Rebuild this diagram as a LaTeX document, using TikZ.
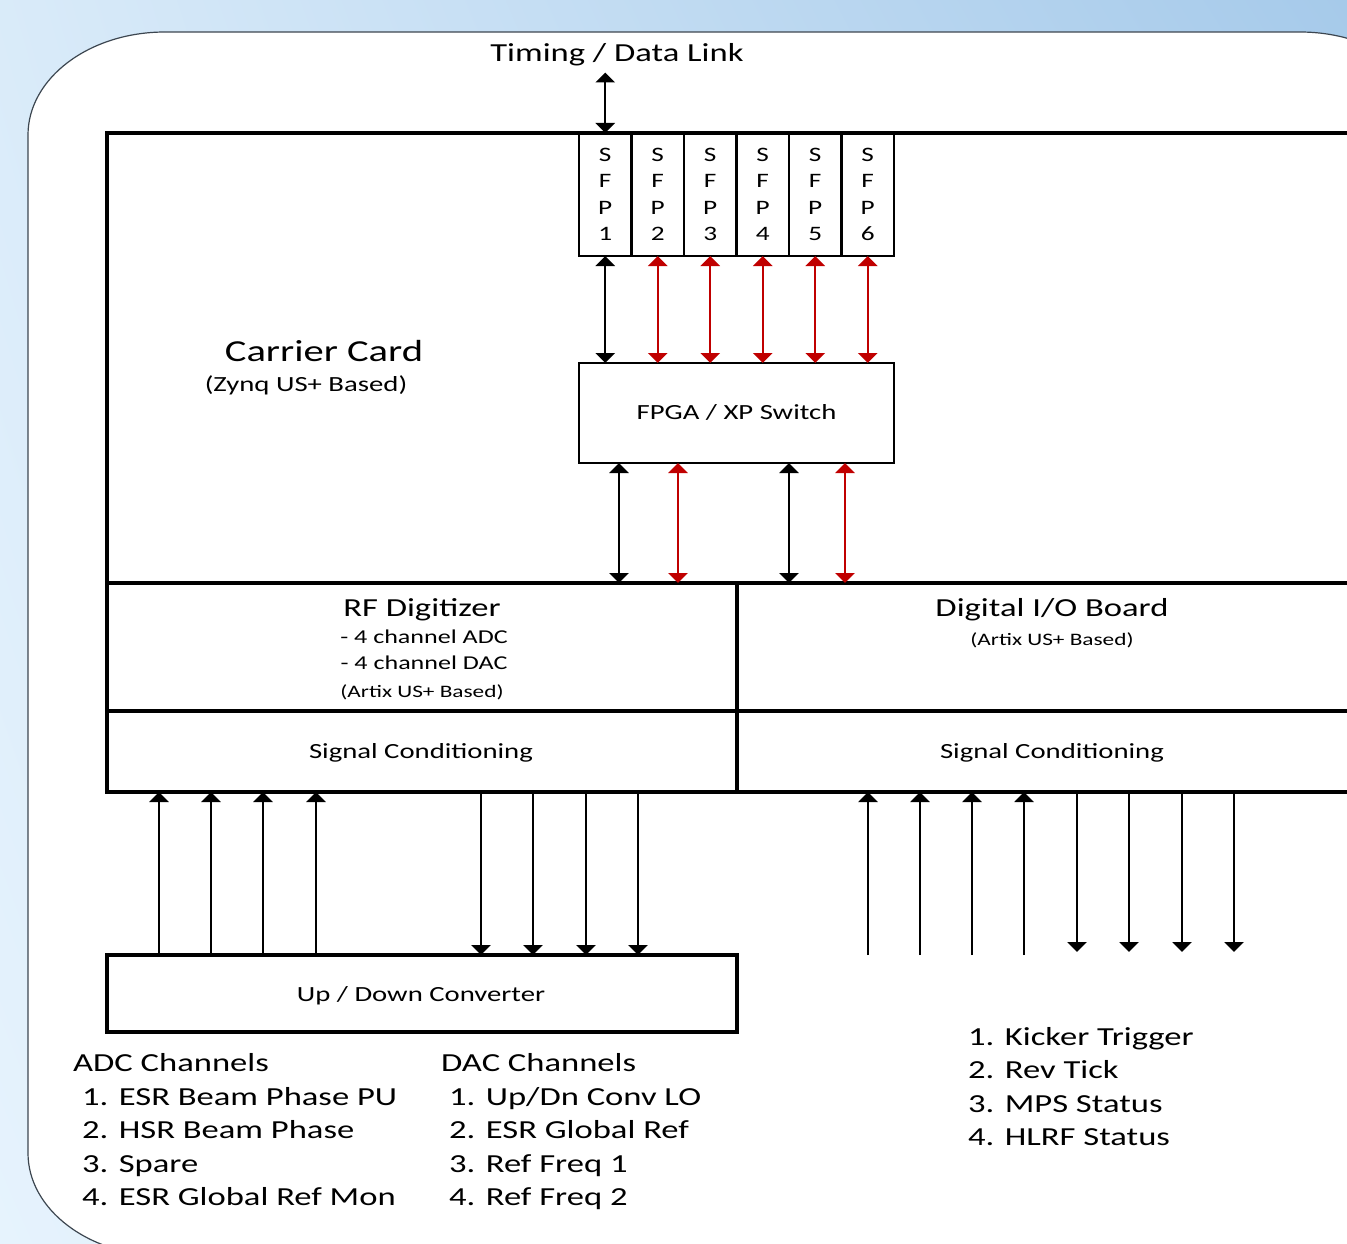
\documentclass[tikz,border=0pt]{standalone}
\usepackage{fontspec}
\setmainfont{Carlito}[FakeStretch=1.33]
\usepackage{tikz}
\usetikzlibrary{arrows.meta,positioning,shadings}
\definecolor{LinkRed}{HTML}{C00000}
\definecolor{PanelEdge}{HTML}{3C4650}
\definecolor{SkyLight}{HTML}{E6F3FD}
\definecolor{SkyDark}{HTML}{A6CAEA}

\begin{document}
\begin{tikzpicture}[x=1pt, y=-1pt,
	lbl/.style={inner sep=0pt, text height=#1, text depth=0pt},
	huge/.style={lbl=19.5pt, font=\fontsize{30.5}{36}\selectfont},
	big/.style={lbl=16.6pt, font=\fontsize{26}{31}\selectfont},
	mid/.style={lbl=13.8pt, font=\fontsize{21.6}{26}\selectfont},
	chan/.style={lbl=12.5pt, font=\fontsize{19.6}{24}\selectfont},
	small/.style={lbl=11.2pt, font=\fontsize{17.5}{21}\selectfont},
	item/.style={big, anchor=west},
	board/.style={draw, line width=3.2pt, outer sep=0pt, inner sep=0pt, anchor=north west},
	sfp/.style={draw, line width=2.6pt, outer sep=0pt, inner sep=0pt, minimum width=52.5pt, minimum height=123pt, align=center, font=\fontsize{20.5}{26.5}\selectfont},
	arr/.style={line width=2.2pt, -{Triangle[width=19pt,length=10pt]}},
	darr/.style={line width=2.2pt, {Triangle[width=19pt,length=10pt]}-{Triangle[width=19pt,length=10pt]}}]
		% backdrop and panel
		\path[use as bounding box] (0,0) rectangle (1347,1244);
		\clip (0,0) rectangle (1347,1244);
		\shade[upper left=SkyLight!80!SkyDark, upper right=SkyDark, lower left=SkyLight, lower right=SkyLight!50!SkyDark] (0,0) rectangle (1347,1244);
		\filldraw[fill=white, draw=PanelEdge, line width=1.2pt] (28,1153) -- (28,135) arc[start angle=180, end angle=270, x radius=137, y radius=103] -- (1300,32) arc[start angle=270, end angle=360, x radius=137, y radius=103] -- (1437,1153) arc[start angle=0, end angle=90, x radius=137, y radius=103] -- (165,1256) arc[start angle=90, end angle=180, x radius=137, y radius=103] -- cycle;

		% carrier card
		\node[board, minimum width=1400pt, minimum height=450pt] (carrier) at (107,133) {};
		\node[huge] (cctitle) at (324,352) {Carrier Card};
		\node[mid] (ccbase) at (306,385) {(Zynq US+ Based)};
		\node[big] (timing) at (617,53) {Timing / Data Link};
		\coordinate[below=11pt of timing.south] (tlink);

		\node[sfp, anchor=north west] (sfp1) at (579,133) {S\\F\\P\\1};
		\node[sfp, right=0pt of sfp1] (sfp2) {S\\F\\P\\2};
		\node[sfp, right=0pt of sfp2] (sfp3) {S\\F\\P\\3};
		\node[sfp, right=0pt of sfp3] (sfp4) {S\\F\\P\\4};
		\node[sfp, right=0pt of sfp4] (sfp5) {S\\F\\P\\5};
		\node[sfp, right=0pt of sfp5] (sfp6) {S\\F\\P\\6};
		\node[draw, line width=2.6pt, outer sep=0pt, minimum width=315pt, minimum height=100pt, mid] (fpga) at (736.5,413) {FPGA / XP Switch};

		% daughter boards
		\node[board, minimum width=630pt, minimum height=128pt] (rfdig) at (107,583) {};
		\node[board, minimum width=630pt, minimum height=81pt] (sc1) at (107,711) {};
		\node[board, minimum width=700pt, minimum height=128pt] (dio) at (737,583) {};
		\node[board, minimum width=700pt, minimum height=81pt] (sc2) at (737,711) {};
		\node[board, minimum width=630pt, minimum height=77pt] (udc) at (107,955) {};
		\node[big] (rftitle) at (422,608) {RF Digitizer};
		\node[chan] (rfadc) at (424,637) {- 4 channel ADC};
		\node[chan] (rfdac) at (424,663) {- 4 channel DAC};
		\node[small] (rfbase) at (422,692) {(Artix US+ Based)};
		\node[mid] (sc1txt) at (421,752) {Signal Conditioning};
		\node[big] (diotitle) at (1052,608) {Digital I/O Board};
		\node[small] (diobase) at (1052,640) {(Artix US+ Based)};
		\node[mid] (sc2txt) at (1052,752) {Signal Conditioning};
		\node[mid] (udctxt) at (421,995) {Up / Down Converter};

		% links
		\draw[darr] (tlink -| sfp1.north) -- (sfp1.north);
		\draw[darr] (sfp1.south) -- (sfp1.south |- fpga.north);
		\draw[darr, LinkRed] (sfp2.south) -- (sfp2.south |- fpga.north); \draw[darr, LinkRed] (sfp3.south) -- (sfp3.south |- fpga.north);
		\draw[darr, LinkRed] (sfp4.south) -- (sfp4.south |- fpga.north); \draw[darr, LinkRed] (sfp5.south) -- (sfp5.south |- fpga.north);
		\draw[darr, LinkRed] (sfp6.south) -- (sfp6.south |- fpga.north);
		\coordinate (f1) at ([xshift=40pt]fpga.south west); \coordinate (f2) at ([xshift=99pt]fpga.south west);
		\coordinate (f3) at ([xshift=210pt]fpga.south west); \coordinate (f4) at ([xshift=266pt]fpga.south west);
		\draw[darr] (f1) -- (f1 |- rfdig.north); \draw[darr, LinkRed] (f2) -- (f2 |- rfdig.north);
		\draw[darr] (f3) -- (f3 |- dio.north); \draw[darr, LinkRed] (f4) -- (f4 |- dio.north);

		% analog channels
		\coordinate (u1) at ([xshift=52pt]udc.north west); \coordinate (u2) at ([xshift=104pt]udc.north west);
		\coordinate (u3) at ([xshift=156pt]udc.north west); \coordinate (u4) at ([xshift=209pt]udc.north west);
		\coordinate (d1) at ([xshift=374pt]udc.north west); \coordinate (d2) at ([xshift=426pt]udc.north west);
		\coordinate (d3) at ([xshift=479pt]udc.north west); \coordinate (d4) at ([xshift=531pt]udc.north west);
		\draw[arr] (u1) -- (u1 |- sc1.south); \draw[arr] (u2) -- (u2 |- sc1.south); \draw[arr] (u3) -- (u3 |- sc1.south); \draw[arr] (u4) -- (u4 |- sc1.south);
		\draw[arr] (d1 |- sc1.south) -- (d1); \draw[arr] (d2 |- sc1.south) -- (d2); \draw[arr] (d3 |- sc1.south) -- (d3); \draw[arr] (d4 |- sc1.south) -- (d4);

		% digital channels
		\coordinate (r1) at (868,955); \coordinate (r2) at (920,955); \coordinate (r3) at (972,955); \coordinate (r4) at (1024,955);
		\coordinate (s1) at (1077,952); \coordinate (s2) at (1129,952); \coordinate (s3) at (1182,952); \coordinate (s4) at (1234,952);
		\draw[arr] (r1) -- (r1 |- sc2.south); \draw[arr] (r2) -- (r2 |- sc2.south); \draw[arr] (r3) -- (r3 |- sc2.south); \draw[arr] (r4) -- (r4 |- sc2.south);
		\draw[arr] (s1 |- sc2.south) -- (s1); \draw[arr] (s2 |- sc2.south) -- (s2); \draw[arr] (s3 |- sc2.south) -- (s3); \draw[arr] (s4 |- sc2.south) -- (s4);

		% channel lists
		\node[item] (adchead) at (73,1063) {ADC Channels};
		\node[item] (adc1) at (82,1097) {1. ESR Beam Phase PU};
		\node[item, below=16.4pt of adc1.south west, anchor=north west] (adc2) {2. HSR Beam Phase};
		\node[item, below=16.4pt of adc2.south west, anchor=north west] (adc3) {3. Spare};
		\node[item, below=16.4pt of adc3.south west, anchor=north west] (adc4) {4. ESR Global Ref Mon};
		\node[item] (dachead) at (441,1063) {DAC Channels};
		\node[item] (dac1) at (449,1097) {1. Up/Dn Conv LO};
		\node[item, below=16.4pt of dac1.south west, anchor=north west] (dac2) {2. ESR Global Ref};
		\node[item, below=16.4pt of dac2.south west, anchor=north west] (dac3) {3. Ref Freq 1};
		\node[item, below=16.4pt of dac3.south west, anchor=north west] (dac4) {4. Ref Freq 2};
		\node[item] (dio1) at (968,1037) {1. Kicker Trigger};
		\node[item, below=16.4pt of dio1.south west, anchor=north west] (dio2) {2. Rev Tick};
		\node[item, below=16.4pt of dio2.south west, anchor=north west] (dio3) {3. MPS Status};
		\node[item, below=16.4pt of dio3.south west, anchor=north west] (dio4) {4. HLRF Status};
	\end{tikzpicture}
\end{document}
